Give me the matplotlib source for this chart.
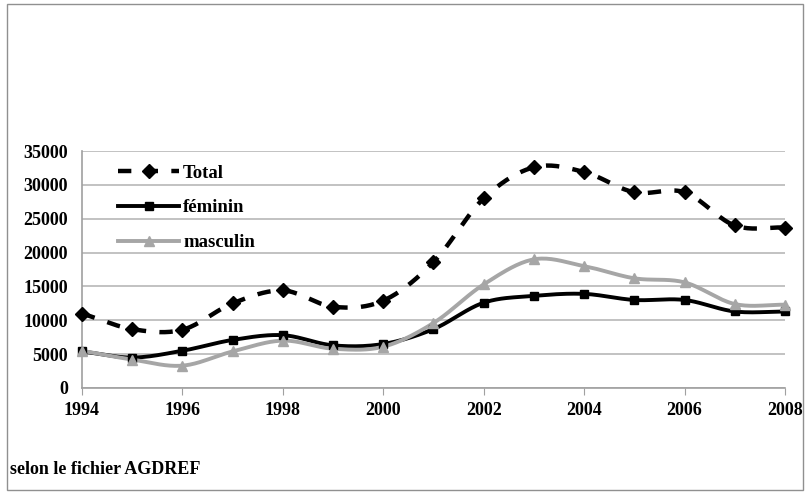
import numpy as np
import matplotlib.pyplot as plt
from matplotlib.patches import Rectangle

# donnees AGDREF par annee
annees = [1994, 1995, 1996, 1997, 1998, 1999, 2000, 2001, 2002, 2003, 2004, 2005, 2006, 2007, 2008]
total = [11000, 8700, 8600, 12500, 14400, 12000, 12900, 18600, 28000, 32600, 31900, 28900, 28900, 24000, 23700]
feminin = [5400, 4500, 5500, 7100, 7800, 6300, 6500, 8700, 12600, 13600, 13900, 13000, 13000, 11300, 11300]
masculin = [5500, 4200, 3300, 5400, 7000, 5800, 6100, 9600, 15300, 19000, 18000, 16200, 15600, 12400, 12300]

def lisse(x, y, n=20, t=0.5):
    # courbe lissee type tableur (Catmull-Rom) passant par les points
    x = np.asarray(x, float); y = np.asarray(y, float)
    px = np.concatenate([[2*x[0]-x[1]], x, [2*x[-1]-x[-2]]])
    py = np.concatenate([[2*y[0]-y[1]], y, [2*y[-1]-y[-2]]])
    xs, ys = [], []
    s = np.linspace(0, 1, n, endpoint=False)
    for i in range(1, len(px)-2):
        m1x = t*(px[i+1]-px[i-1]); m2x = t*(px[i+2]-px[i])
        m1y = t*(py[i+1]-py[i-1]); m2y = t*(py[i+2]-py[i])
        h00 = 2*s**3-3*s**2+1; h10 = s**3-2*s**2+s
        h01 = -2*s**3+3*s**2; h11 = s**3-s**2
        xs.append(h00*px[i]+h10*m1x+h01*px[i+1]+h11*m2x)
        ys.append(h00*py[i]+h10*m1y+h01*py[i+1]+h11*m2y)
    xs.append([x[-1]]); ys.append([y[-1]])
    return np.concatenate(xs), np.concatenate(ys)

plt.rcParams['font.family'] = 'Liberation Serif'
plt.rcParams['font.weight'] = 'bold'

fig = plt.figure(figsize=(8.06, 4.92), dpi=100)
ax = fig.add_axes([82/806, 1-388/492, 703/806, 237/492])

gris = '#a6a6a6'
for y, c, lw, ls, mk, ms, lab in [
        (total, 'black', 3.2, (0, (3, 3)), 'D', 7, 'Total'),
        (feminin, 'black', 2.8, '-', 's', 6, 'féminin'),
        (masculin, gris, 2.8, '-', '^', 7, 'masculin')]:
    sx, sy = lisse(annees, y)
    ax.plot(sx, sy, color=c, lw=lw, ls=ls, clip_on=False, zorder=3)
    ax.plot(annees, y, ls='none', marker=mk, ms=ms, color=c, clip_on=False, zorder=4)
    ax.plot([], [], color=c, lw=lw, ls=ls, marker=mk, ms=ms, label=lab)

ax.set_xlim(1994, 2008)
ax.set_ylim(0, 35000)
ax.set_xticks(range(1994, 2009, 2))
ax.set_yticks(range(0, 35001, 5000))
ax.yaxis.grid(True, color='#b8b8b8', lw=1.2)
ax.set_axisbelow(True)
for s in ['top', 'right']:
    ax.spines[s].set_visible(False)
for s in ['left', 'bottom']:
    ax.spines[s].set_color('#a0a0a0')
    ax.spines[s].set_linewidth(1.2)
ax.tick_params(axis='y', length=0, pad=10, labelsize=13)
ax.tick_params(axis='x', length=5, color='#a0a0a0', direction='out', pad=5, labelsize=13)

ax.legend(loc='upper left', bbox_to_anchor=(0.04, 0.975), frameon=False,
          fontsize=13.5, handlelength=3.3, labelspacing=0.95, handletextpad=0.2,
          borderaxespad=0)

fig.text(10/806, 1-470/492, 'selon le fichier AGDREF', fontsize=13, va='center', ha='left')
fig.patches.append(Rectangle((7/806, 2/492), 796/806, 486/492, transform=fig.transFigure,
                             fill=False, edgecolor='#909090', lw=1))

fig.savefig('out.png', dpi=100)
